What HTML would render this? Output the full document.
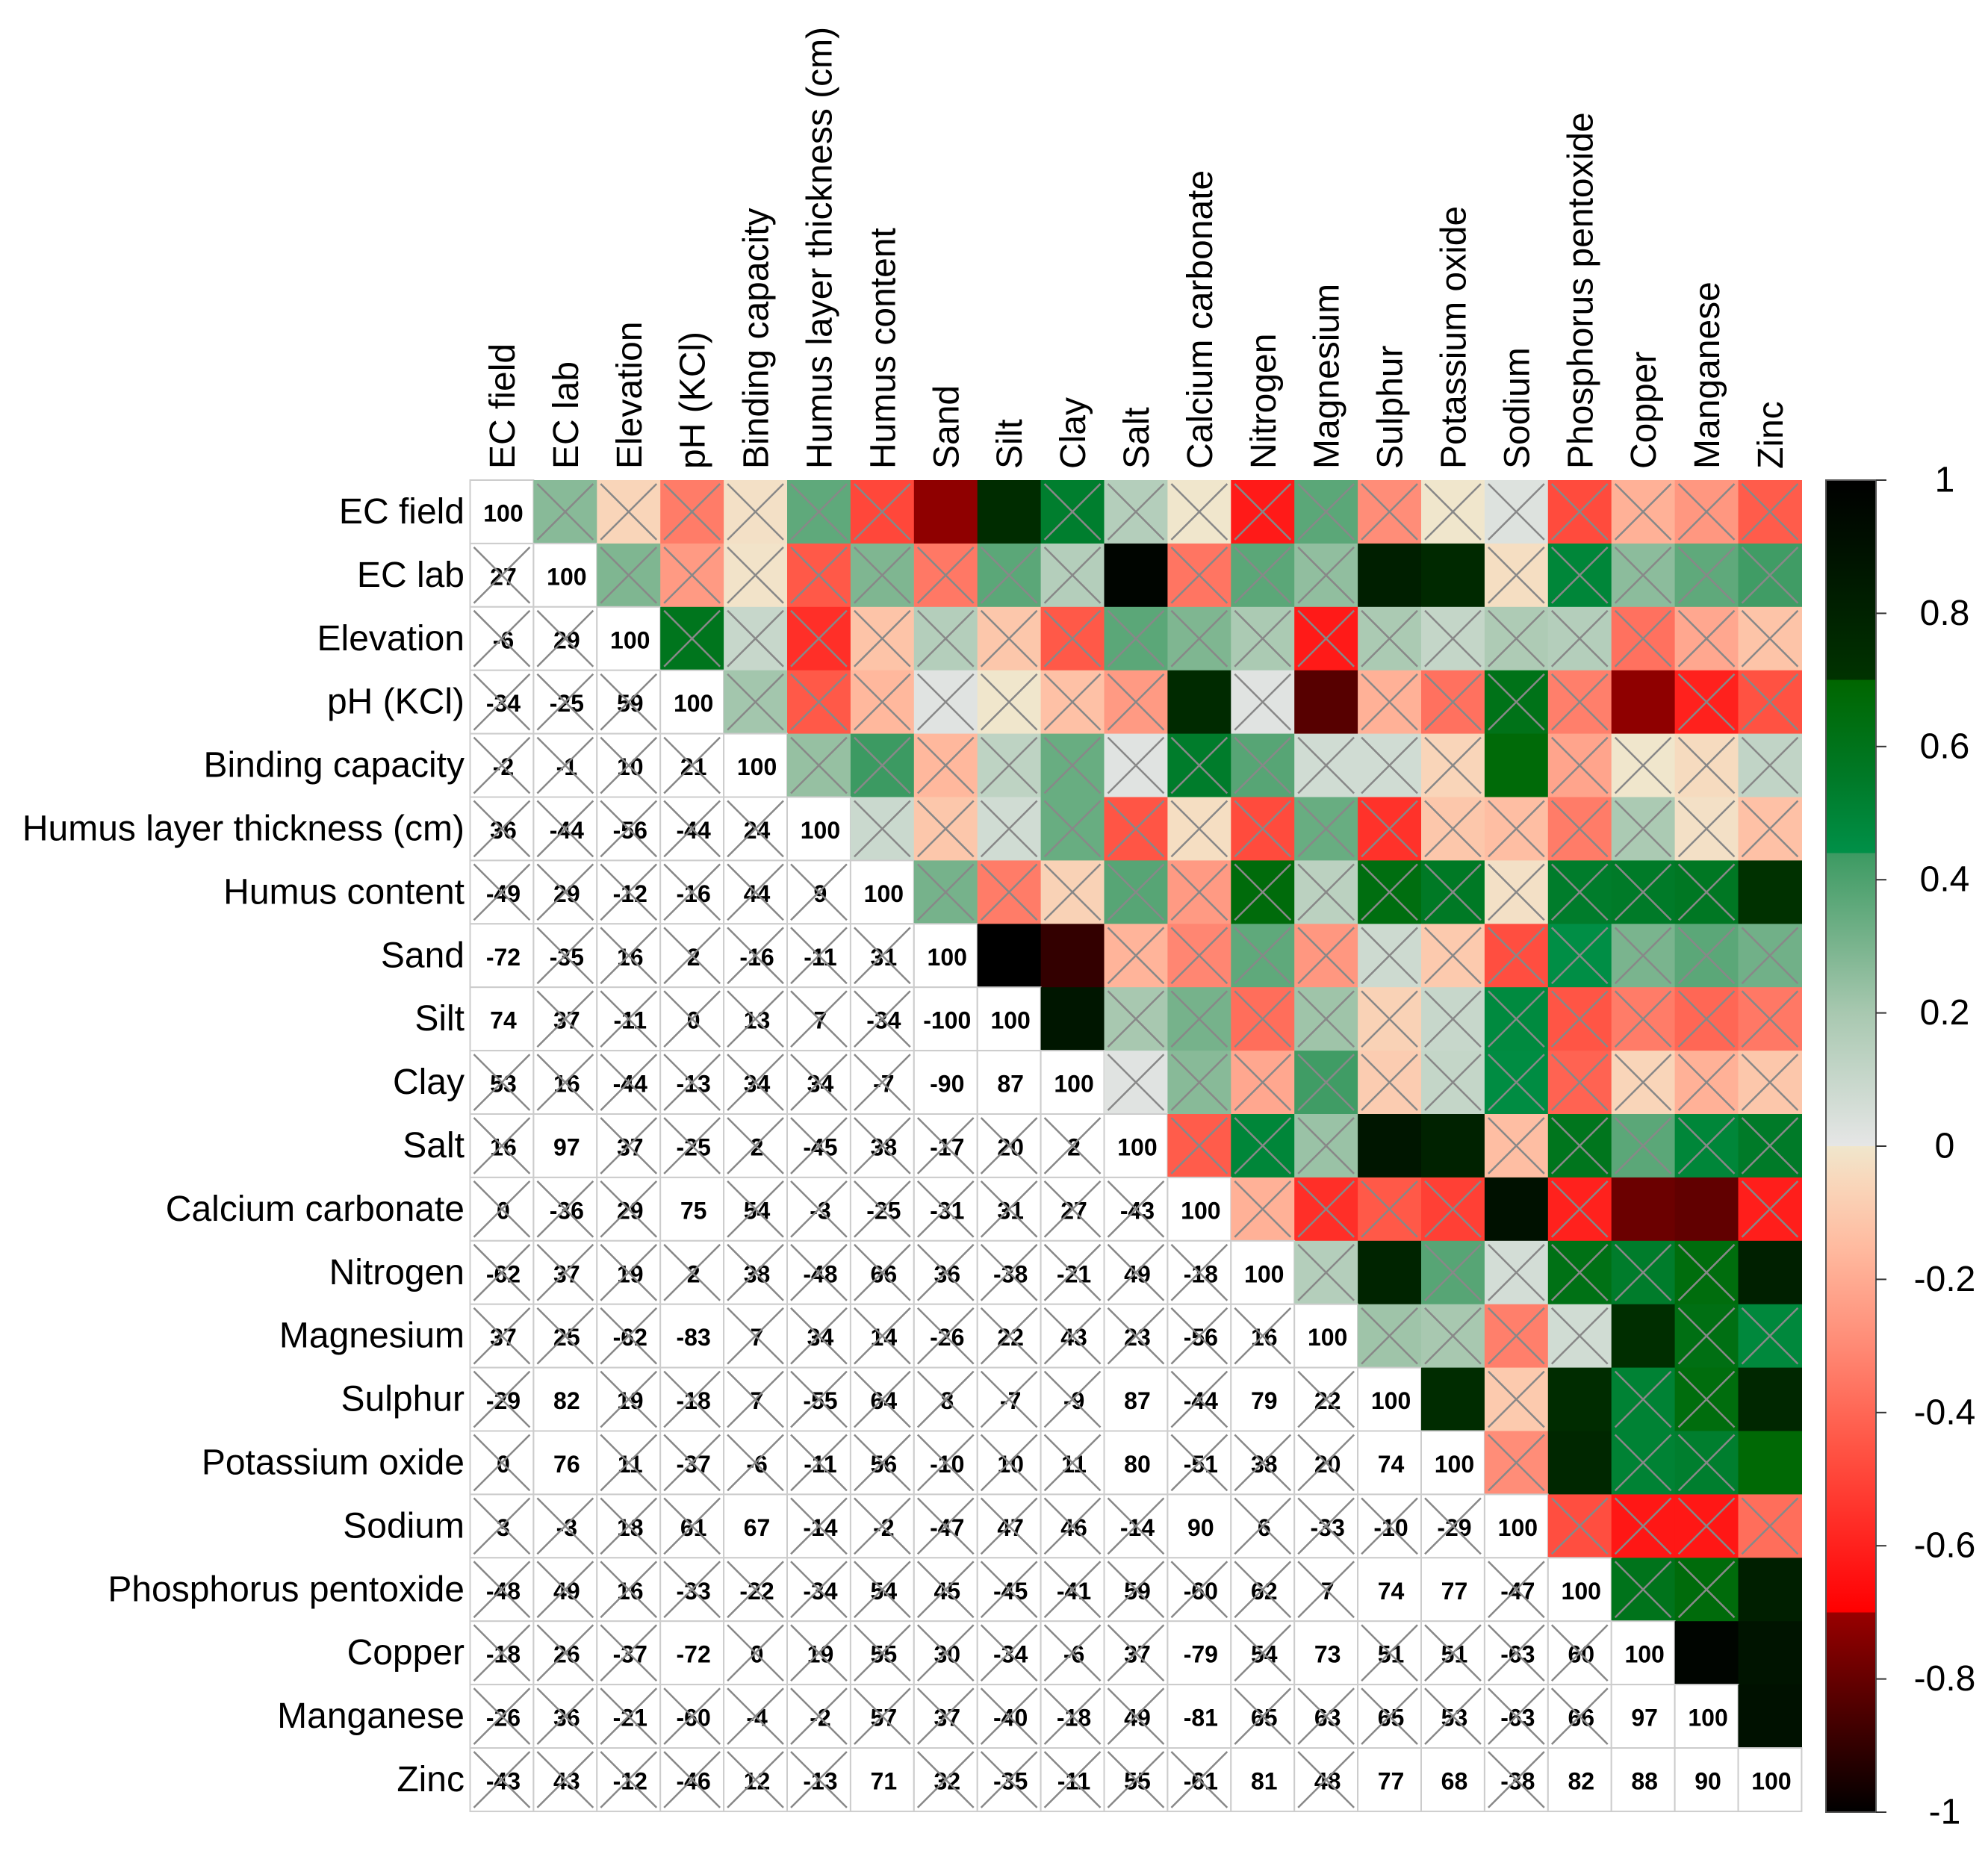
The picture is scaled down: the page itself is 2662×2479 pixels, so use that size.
<!DOCTYPE html>
<html><head><meta charset="utf-8"><style>
html,body{margin:0;padding:0;background:#fff}
svg{display:block}
text{font-family:"Liberation Sans",Arial,sans-serif}
</style></head><body>
<svg id="chart" width="2662" height="2479" viewBox="0 0 2662 2479" xmlns="http://www.w3.org/2000/svg">
<defs><linearGradient id="cbgrad" x1="0" y1="0" x2="0" y2="1"></linearGradient></defs>
<g id="cells"></g>
<g id="labels"></g>
<g id="colorbar"></g>
</svg>
<script>
const variables = ["EC field","EC lab","Elevation","pH (KCl)","Binding capacity","Humus layer thickness (cm)","Humus content","Sand","Silt","Clay","Salt","Calcium carbonate","Nitrogen","Magnesium","Sulphur","Potassium oxide","Sodium","Phosphorus pentoxide","Copper","Manganese","Zinc"];
const lowerRows = [
[],
[27],
[-6,29],
[-34,-25,59],
[-2,-1,10,21],
[36,-44,-56,-44,24],
[-49,29,-12,-16,44,9],
[-72,-35,16,2,-16,-11,31],
[74,37,-11,0,13,7,-34,-100],
[53,16,-44,-13,34,34,-7,-90,87],
[16,97,37,-25,2,-45,38,-17,20,2],
[0,-36,29,75,54,-3,-25,-31,31,27,-43],
[-62,37,19,2,38,-48,66,36,-38,-21,49,-18],
[37,25,-62,-83,7,34,14,-26,22,43,23,-56,16],
[-29,82,19,-18,7,-55,64,8,-7,-9,87,-44,79,22],
[0,76,11,-37,-6,-11,56,-10,10,11,80,-51,38,20,74],
[3,-3,18,61,67,-14,-2,-47,47,46,-14,90,6,-33,-10,-29],
[-48,49,16,-33,-22,-34,54,45,-45,-41,59,-60,62,7,74,77,-47],
[-18,26,-37,-72,0,19,55,30,-34,-6,37,-79,54,73,51,51,-63,60],
[-26,36,-21,-60,-4,-2,57,37,-40,-18,49,-81,65,63,65,53,-63,66,97],
[-43,43,-12,-46,12,-13,71,32,-35,-11,55,-61,81,48,77,68,-38,82,88,90]
];
const significantPairs = [[0,7],[0,8],[1,10],[7,8],[7,9],[8,9],[1,14],[1,15],[3,11],[3,13],[3,18],[4,16],[6,20],[10,14],[10,15],[11,16],[11,18],[11,19],[12,14],[12,20],[13,18],[14,15],[14,17],[14,20],[15,17],[15,20],[17,20],[18,19],[18,20],[19,20]];
const colorbarTicks = [1,0.8,0.6,0.4,0.2,0,-0.2,-0.4,-0.6,-0.8,-1];
const colorStops = [[-1,"#000000"],[-0.7,"#990000"],[-0.7,"#ff0000"],[-0.65,"#ff1010"],[-0.45,"#ff5545"],[-0.3,"#ff8a75"],[-0.15,"#ffbba0"],[-0.05,"#f8d8bc"],[0,"#f0e6cc"],[0,"#e6e6e6"],[0.2,"#a8c8b0"],[0.3,"#7ab48e"],[0.44,"#3c9a62"],[0.44,"#009048"],[0.55,"#007a28"],[0.7,"#006600"],[0.7,"#003300"],[1,"#000000"]];

const NS="http://www.w3.org/2000/svg";
const X0=629.5, Y0=643, CELL=84.9, N=variables.length;
const xPos=i=>X0+i*CELL, yPos=i=>Y0+i*CELL;
function hex(c){return [1,3,5].map(k=>parseInt(c.substr(k,2),16));}
function color(v){
  if(v<=colorStops[0][0]) return colorStops[0][1];
  for(let k=0;k<colorStops.length-1;k++){
    const [a,ca]=colorStops[k],[b,cb]=colorStops[k+1];
    if(v>=a && v<=b && b>a){
      const t=(v-a)/(b-a), A=hex(ca), B=hex(cb);
      return "rgb("+A.map((x,j)=>Math.round(x+(B[j]-x)*t)).join(",")+")";
    }
  }
  return colorStops[colorStops.length-1][1];
}
function el(tag,attrs,parent){const e=document.createElementNS(NS,tag);for(const k in attrs)e.setAttribute(k,attrs[k]);parent.appendChild(e);return e;}
function val(i,j){if(i===j)return 100;return i>j?lowerRows[i][j]:lowerRows[j][i];}
function sig(i,j){const a=Math.min(i,j),b=Math.max(i,j);return significantPairs.some(p=>p[0]===a&&p[1]===b);}

const cells=document.getElementById('cells');
for(let i=0;i<N;i++){for(let j=0;j<N;j++){
  const v=val(i,j), x=xPos(j), y=yPos(i);
  const g=el('g',{},cells);
  
  
  if(j>i){
    el('rect',{x:x,y:y,width:CELL+0.6,height:CELL+0.6,fill:color(v/100)},g);
  } else {
    el('rect',{x:x,y:y,width:CELL,height:CELL,fill:'#fff',stroke:'#cccccc','stroke-width':2},g);
    const t=el('text',{x:x+CELL/2+2,y:y+CELL/2+2,'text-anchor':'middle','dominant-baseline':'central','font-size':32,'font-weight':'bold',fill:'#000'},g);
    t.textContent=String(v);
  }
  if(i!==j && !sig(i,j)){
    const m=5;
    el('path',{d:`M${x+m},${y+m}L${x+CELL-m},${y+CELL-m}M${x+CELL-m},${y+m}L${x+m},${y+CELL-m}`,stroke:'#888','stroke-width':2.5,fill:'none'},g);
  }
}}
const labels=document.getElementById('labels');
variables.forEach((name,i)=>{
  const r=el('text',{x:622,y:yPos(i)+CELL/2,'text-anchor':'end','dominant-baseline':'central','font-size':48,fill:'#000'},labels);
  
  
  r.textContent=name;
  const cx=xPos(i)+CELL/2;
  const c=el('text',{x:0,y:0,'text-anchor':'start','font-size':48,fill:'#000',transform:`translate(${cx+17},628) rotate(-90)`},labels);
  
  
  c.textContent=name;
});
// colorbar
const grad=document.getElementById('cbgrad');
colorStops.slice().reverse().forEach(s=>{el('stop',{offset:((1-s[0])/2).toFixed(4),'stop-color':s[1]},grad);});
const cb=document.getElementById('colorbar');
const CBX=2445, CBW=67, CBT=643, CBB=2427;
const cbY=v=>CBT+(1-v)/2*(CBB-CBT);
const bar=el('rect',{x:CBX,y:CBT,width:CBW,height:CBB-CBT,fill:'url(#cbgrad)',stroke:'#555','stroke-width':2},cb);


colorbarTicks.forEach(v=>{
  const y=cbY(v);
  el('line',{x1:CBX+CBW,x2:CBX+CBW+14,y1:y,y2:y,stroke:'#333','stroke-width':2},cb);
  const t=el('text',{x:2604,y:y,'text-anchor':'middle','dominant-baseline':'central','font-size':48,fill:'#000'},cb);
  
  
  t.textContent=String(v);
});
</script>
</body></html>
